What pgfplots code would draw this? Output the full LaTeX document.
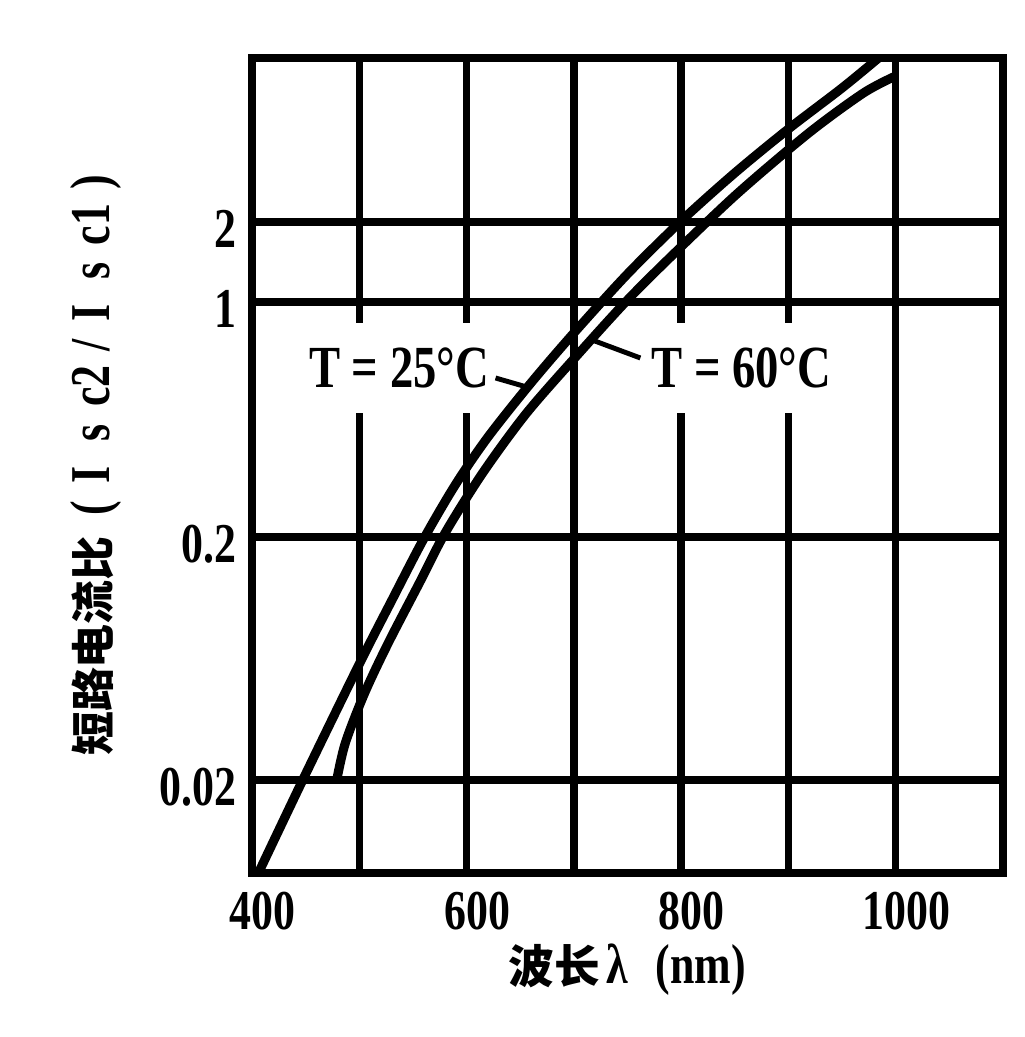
\documentclass[border=0pt]{standalone}
\usepackage{pgfplots}
\pgfplotsset{compat=1.18}
\usepackage{fontspec}
\setmainfont{Liberation Serif}[FakeStretch=0.78]
\newfontfamily\cjk{Noto Sans CJK SC}

\begin{document}
\begin{tikzpicture}
\begin{axis}[
    scale only axis,
    width=7.51cm, height=8.15cm,
    xmin=400, xmax=1100,
    ymin=0, ymax=815,
    xtick={400,500,600,700,800,900,1000,1100},
    xticklabels={400,,600,,800,,1000,},
    ytick={93,336,571,651},
    yticklabels={0.02,0.2,1,2},
    major tick length=0pt,
    grid=major,
    major grid style={line width=2.1pt, black},
    axis line style={line width=2.4pt, black},
    xticklabel style={font=\bfseries\fontsize{16}{16}\selectfont, xshift=3pt, yshift=-2pt},
    yticklabel style={font=\bfseries\fontsize{16}{16}\selectfont, xshift=-1pt, yshift=-2pt},
    xlabel={{\cjk\bfseries\fontsize{13}{13}\selectfont 波长}\,\bfseries\fontsize{16}{16}\selectfont λ\hspace{8pt}(nm)},
    ylabel={\bfseries\fontsize{16}{16}\selectfont{\cjk\fontsize{12.5}{12.5}\selectfont 短路电流比}\hspace{6pt}(\hspace{5pt}I\hspace{7pt}s\hspace{5pt}c2\hspace{4pt}/\hspace{5pt}I\hspace{7pt}s\hspace{5pt}c1\hspace{4pt})},
    xlabel style={yshift=3pt},
    ylabel style={yshift=4pt},
]

% T = 25 C
\addplot[line width=2.6pt, black, smooth, tension=0.5] coordinates {
    (406,0) (450,99) (500,209) (530,272) (560,334) (590,389)
    (620,436) (660,490) (700,540) (750,599) (800,652) (850,700)
    (900,744) (950,785) (984,815)
};
% T = 60 C
\addplot[line width=2.6pt, black, smooth, tension=0.5] coordinates {
    (479,93) (487,130) (505,180) (527,230) (556,290) (580,340)
    (615,400) (656,460) (705,520) (750,573) (794,620) (853,680)
    (919,740) (970,780) (1000,797)
};

\node[fill=white, inner xsep=3pt, inner ysep=7pt, font=\bfseries\fontsize{17}{17}\selectfont]
    at (axis cs:537,505) {T = 25°C};
\node[fill=white, inner xsep=3pt, inner ysep=7pt, font=\bfseries\fontsize{17}{17}\selectfont]
    at (axis cs:856,505) {T = 60°C};
\draw[line width=1.4pt] (axis cs:627,495) -- (axis cs:656,486);
\draw[line width=1.4pt] (axis cs:762,515) -- (axis cs:717,533);
\end{axis}
\pgfresetboundingbox
\path (-2.52cm,-1.64cm) rectangle (7.72cm,8.73cm);
\end{tikzpicture}
\end{document}
